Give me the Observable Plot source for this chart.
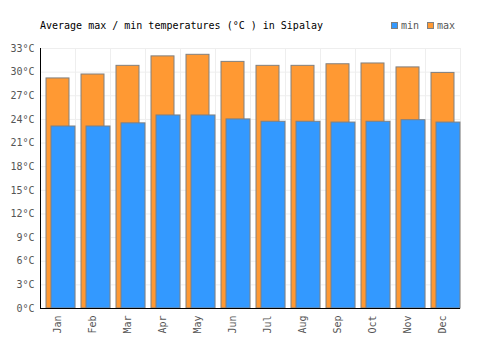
<!DOCTYPE html>
<html>
<head>
<meta charset="utf-8">
<script src="https://cdn.jsdelivr.net/npm/d3@7"></script>
<script src="https://cdn.jsdelivr.net/npm/@observablehq/plot@0.6"></script>
<style>
  body { margin: 0; background: #fff; }
  #wrap { position: relative; width: 500px; height: 350px; font-family: "DejaVu Sans Mono", monospace; }
  #title { position: absolute; left: 40px; top: 20px; font-size: 10px; color: #000; white-space: pre; }
  #legend { position: absolute; left: 391px; top: 20px; font-size: 10px; color: #555; display: flex; align-items: center; white-space: pre; }
  .sw { display: inline-block; width: 5px; height: 5px; border: 1px solid #808080; margin-right: 3px; }
</style>
</head>
<body>
<div id="wrap">
  <div id="chart"></div>
  <div id="title">Average max / min temperatures (°C ) in Sipalay</div>
  <div id="legend"><span class="sw" style="background:#3399ff"></span><span>min</span><span class="sw" style="background:#ff9933;margin-left:8px"></span><span>max</span></div>
</div>
<script>
const months = ["Jan","Feb","Mar","Apr","May","Jun","Jul","Aug","Sep","Oct","Nov","Dec"];
const minTemps = [23.1, 23.1, 23.5, 24.5, 24.5, 24.0, 23.7, 23.7, 23.6, 23.7, 23.9, 23.6];
const maxTemps = [29.2, 29.7, 30.8, 32.0, 32.2, 31.3, 30.8, 30.8, 31.0, 31.1, 30.6, 29.9];
const yTicks = d3.range(0, 34, 3);

const rows = months.map((m, i) => ({month: m, min: minTemps[i], max: maxTemps[i]}));
const bw = 35;

const chart = Plot.plot({
  width: 500,
  height: 350,
  marginLeft: 40,
  marginRight: 40,
  marginTop: 48,
  marginBottom: 42,
  style: {fontFamily: "DejaVu Sans Mono, monospace", fontSize: "10px", color: "#555", background: "#fff"},
  x: {domain: months, padding: 0, label: null},
  y: {domain: [0, 33], label: null},
  marks: [
    Plot.ruleY(yTicks, {stroke: "#eeeeee", strokeWidth: 1}),
    Plot.ruleX(months, {dx: -bw / 2, stroke: "#eeeeee", strokeWidth: 1}),
    Plot.ruleX(["Dec"], {dx: bw / 2, stroke: "#eeeeee", strokeWidth: 1}),
    Plot.barY(rows, {x: "month", y: "max", fill: "#ff9933", stroke: "#808080", strokeWidth: 1, insetLeft: 6, insetRight: 6}),
    Plot.barY(rows, {x: "month", y: "min", fill: "#3399ff", stroke: "#808080", strokeWidth: 1, insetLeft: 11, insetRight: 0}),
    Plot.ruleX(["Jan"], {dx: -bw / 2, stroke: "#000", strokeWidth: 1}),
    Plot.ruleY([0], {stroke: "#000", strokeWidth: 1}),
    Plot.axisY({ticks: yTicks, tickFormat: d => d + "°C", tickSize: 0, tickPadding: 6, label: null, fill: "#555"}),
    Plot.axisX({tickSize: 0, tickRotate: -90, tickPadding: 7, label: null, fill: "#555"})
  ]
});
document.getElementById("chart").appendChild(chart);
</script>
</body>
</html>
